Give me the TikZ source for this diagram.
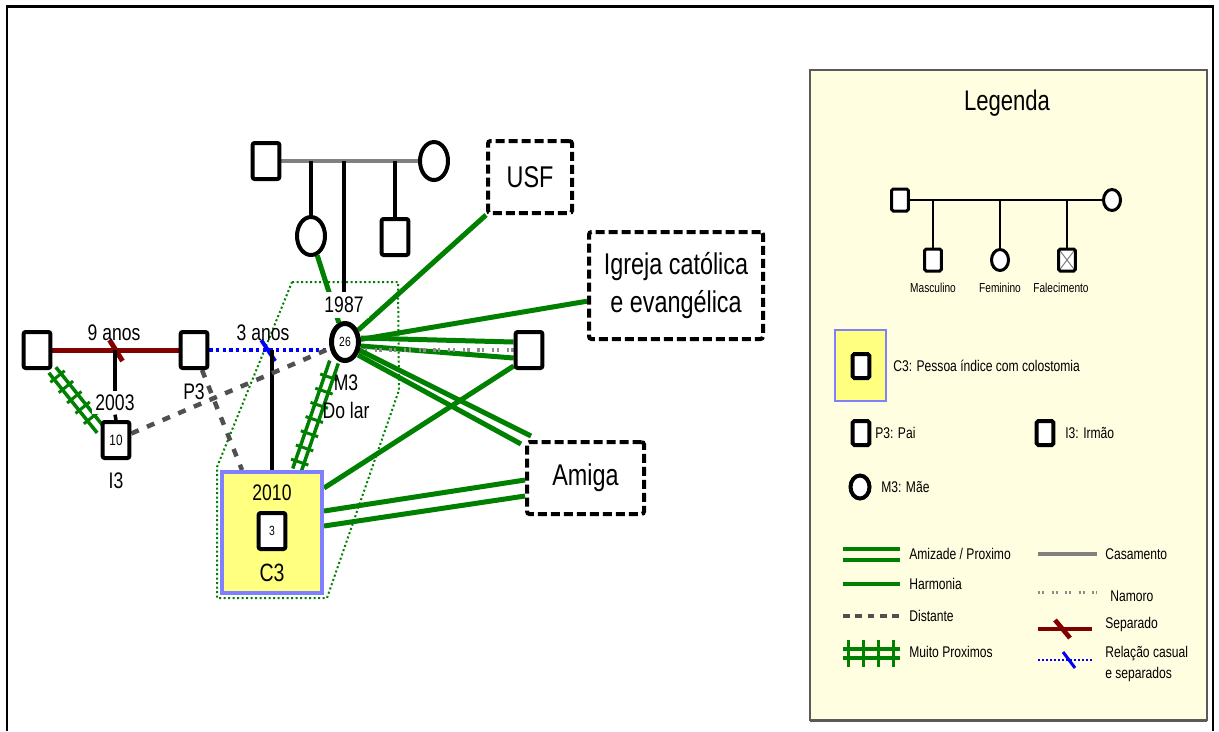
\documentclass[tikz,border=0pt]{standalone}
\usepackage{fontspec}
\setmainfont{Liberation Sans}[FakeStretch=0.78]
\usetikzlibrary{shapes.geometric,calc,decorations.markings}

\definecolor{grn}{RGB}{0,128,0}
\definecolor{dred}{RGB}{128,0,0}
\definecolor{blu}{RGB}{0,0,255}
\definecolor{mgray}{RGB}{128,128,128}
\definecolor{dgray}{RGB}{80,80,80}
\definecolor{namgray}{RGB}{140,140,140}
\definecolor{yel}{RGB}{255,255,128}
\definecolor{lav}{RGB}{128,128,255}
\definecolor{legfill}{RGB}{255,254,224}
\definecolor{legline}{RGB}{90,90,90}

\newcommand\fsz[2]{\fontsize{#1pt}{#2pt}\selectfont}

\pgfdeclarelayer{bglayer}
\pgfdeclarelayer{edgelayer}
\pgfsetlayers{bglayer,edgelayer,main}

\tikzset{
  psq/.style={rectangle, draw, fill=white, line width=2.4pt, minimum width=16pt,
    minimum height=21.6pt, inner sep=0pt, rounded corners=1.2pt},
  pci/.style={ellipse, draw, fill=white, line width=2.4pt, minimum width=16.8pt,
    minimum height=22.8pt, inner sep=0pt},
  ext/.style={rectangle, draw, fill=white, line width=2.4pt,
    dash pattern=on 5.4pt off 2.4pt, rounded corners=1.5pt, align=center,
    font=\fsz{18}{23}},
  lbl/.style={font=\fsz{13.5}{16.8}, inner sep=1pt},
  kin/.style={draw=black, line width=2.1pt},
  harm/.style={draw=grn, line width=3pt},
  sepl/.style={draw=dred, line width=3pt},
  casual/.style={draw=blu, line width=2.2pt, dash pattern=on 2pt off 2pt},
  casslash/.style={draw=blu, line width=2.4pt},
  dist/.style={draw=dgray, line width=2.7pt, dash pattern=on 4.8pt off 5.4pt},
  namoro/.style={draw=namgray, line width=2.2pt,
    dash pattern=on 1.5pt off 1.3pt on 1.5pt off 4.5pt},
  mp/.style={draw=grn, line width=2.1pt},
  grndot/.style={draw=grn, line width=1.2pt, dash pattern=on 1.2pt off 1.5pt},
  % legend styles
  lsqs/.style={rectangle, draw, fill=white, line width=1.8pt, minimum width=10pt,
    minimum height=13.2pt, inner sep=0pt, rounded corners=1pt},
  lcis/.style={ellipse, draw, fill=white, line width=1.8pt, minimum width=10.2pt,
    minimum height=12.6pt, inner sep=0pt},
  lsqb/.style={rectangle, draw, fill=white, line width=2.4pt, minimum width=10pt,
    minimum height=14.4pt, inner sep=0pt, rounded corners=1pt},
  lcib/.style={ellipse, draw, fill=white, line width=2.4pt, minimum width=11.4pt,
    minimum height=13.8pt, inner sep=0pt},
  lkin/.style={draw=black, line width=1.6pt},
  ltext/.style={font=\fsz{9.3}{12.6}, inner sep=0pt, anchor=west, align=left},
  ltiny/.style={font=\fsz{7.8}{9}, inner sep=0pt},
}

% two parallel green lines crossed by short bars
\newcommand\muitoprox[3]{%
  \draw[mp] ($(#1)!2.7pt!90:(#2)$) -- ($(#2)!2.7pt!-90:(#1)$);
  \draw[mp] ($(#1)!2.7pt!-90:(#2)$) -- ($(#2)!2.7pt!90:(#1)$);
  \path[decorate, decoration={markings,
      mark=between positions 5pt and -4pt step #3 with
      {\draw[draw=grn, line width=1.8pt] (0,-5.5pt) -- (0,5.5pt);}}] (#1) -- (#2);
}

\begin{document}
\begin{tikzpicture}[x=0.6pt, y=-0.6pt]
\useasboundingbox (0,0) rectangle (1219,731);

\begin{pgfonlayer}{bglayer}
  % outer frame, open at the bottom
  \draw[line width=1.5pt] (7,731) -- (7,6.5) -- (1213,6.5) -- (1213,731);
  % legend panel
  \draw[fill=legfill, draw=legline, line width=0.9pt] (810,70) rectangle (1207,720);
  \draw[draw=legline, line width=1.6pt] (810,721) -- (1207,721);
\end{pgfonlayer}

% ---------- persons ----------
\node[psq] (gf) at (266,161) {};
\node[pci] (gm) at (434,161) {};
\node[pci] (aunt) at (311,236) {};
\node[psq] (uncle) at (395,237) {};
\node[pci, line width=3pt, minimum width=16.2pt, minimum height=22.2pt] (m3) at (345,342) {\fsz{8}{9}26};
\node[psq] (lsq) at (37,350) {};
\node[psq] (p3) at (194,350) {};
\node[psq] (i3) at (116,440) {\fsz{9}{10}10};
\node[psq] (rsq) at (529,350) {};

\node[rectangle, draw=lav, fill=yel, line width=2.4pt, minimum width=60pt,
  minimum height=72.6pt, inner sep=0pt] (c3box) at (272,532.5) {};
\node[psq] (c3) at (272,531) {\fsz{8}{9}3};
\node[lbl] (c3year) at (272,493) {2010};
\node[lbl, font=\fsz{15}{17}] (c3name) at (272,573) {C3};

% ---------- external resources ----------
\node[ext, minimum width=50.4pt, minimum height=43.2pt] (usf) at (530,177) {USF};
\node[ext, minimum width=104.4pt, minimum height=64.2pt] (igreja) at (676,285.5) {Igreja católica\\e evangélica};
\node[ext, minimum width=70.2pt, minimum height=43.2pt] (amiga) at (585.5,478) {Amiga};

% ---------- labels ----------
\node[lbl, fill=white, inner sep=3pt] (y1987) at (344,305) {1987};
\node[lbl, fill=white, inner sep=2pt] (y2003) at (115,403) {2003};
\node[lbl] (t9) at (114,333) {9 anos};
\node[lbl] (t3) at (263,333) {3 anos};
\node[lbl] (lp3) at (194,392) {P3};
\node[lbl] (li3) at (116,481) {I3};
\node[lbl, align=center] (lm3) at (346,397) {M3\\Do lar};

% ---------- connectors ----------
\begin{pgfonlayer}{edgelayer}
  % group around the index person and mother
  \draw[grndot] (292,282) -- (398,282) -- (399,390) -- (327,598) -- (217,598) -- (217,467) -- cycle;

  % grandparents and their children
  \draw[draw=mgray, line width=2.4pt] (gf) -- (gm);
  \draw[kin] (aunt.north) -- (aunt.north |- gf.center);
  \draw[kin] (uncle.north) -- (uncle.north |- gf.center);
  \draw[kin] (y1987.north) -- (y1987.north |- gf.center);
  \draw[harm] (aunt) -- (m3);

  % father's earlier union, separated
  \draw[sepl] (lsq) -- (p3);
  \coordinate (s1) at ($(lsq.east)!0.5!(p3.west)$);
  \draw[sepl] ($(s1)+(-6,-10)$) -- ($(s1)+(7,11)$);
  \draw[kin] (y2003.north) -- (y2003.north |- s1);
  \draw[kin] (i3.north) -- (y2003.south);

  % casual relation of the parents
  \draw[casual] (p3.east) -- (p3.east -| m3.west);
  \coordinate (s2) at ($(p3.east)!0.5!(p3.east -| m3.west)$);
  \draw[casslash] ($(s2)+(-8,-10)$) -- ($(s2)+(6,11)$);
  \draw[kin] (c3box.north) -- (c3box.north |- s2);

  % distant relations
  \draw[dist] (i3) -- (m3);
  \draw[dist] ($(p3.south)+(8,0)$) -- ($(c3box.north west)+(22,0)$);

  % very close relations
  \coordinate (mpa1) at (lsq.south east);
  \coordinate (mpa2) at ($(i3.west)+(0,-10)$);
  \muitoprox{mpa1}{mpa2}{8pt}
  \coordinate (mpb1) at ($(c3box.north)+(25,0)$);
  \coordinate (mpb2) at ($(m3.south)+(-11,-1)$);
  \muitoprox{mpb1}{mpb2}{9pt}

  % mother's links
  \draw[harm] (m3) -- (usf.south west);
  \draw[harm] (m3) -- (igreja.190);
  \draw[harm] ($(m3.east)+(0,-4)$) -- ($(rsq.west)+(0,-8)$);
  \draw[harm] ($(m3.east)+(0,4)$) -- ($(rsq.west)+(0,8)$);
  \draw[namoro] (rsq.west) -- (rsq.west -| m3.east);
  \draw[harm] ($(m3.east)+(-2,8)$) -- ($(amiga.north west)+(6,-4)$);
  \draw[harm] ($(m3.east)+(-3,13)$) -- ($(amiga.north west)+(-4,4)$);

  % index person's links
  \draw[harm] ($(c3box.north east)+(0,18)$) -- ($(rsq.south west)+(0,-4)$);
  \draw[harm] ($(c3box.north east)+(0,41)$) -- ($(amiga.west)+(0,2)$);
  \draw[harm] ($(c3box.north east)+(0,56)$) -- ($(amiga.west)+(0,18)$);
\end{pgfonlayer}

% ---------- legend ----------
\node[font=\fsz{17}{19}] (legtitle) at (1007,103) {Legenda};

\node[lsqs] (lgf) at (900,200) {};
\node[lcis] (lgm) at (1112,200) {};
\node[lsqs] (lmas) at (933,260) {};
\node[lcis] (lfem) at (1000,260) {};
\node[lsqs, path picture={\draw[gray, line width=0.6pt]
    (path picture bounding box.north west) -- (path picture bounding box.south east)
    (path picture bounding box.south west) -- (path picture bounding box.north east);}]
  (lfal) at (1067,260) {};
\begin{pgfonlayer}{edgelayer}
  \draw[lkin] (lgf) -- (lgm);
  \draw[lkin] (lmas.north) -- (lmas.north |- lgf.center);
  \draw[lkin] (lfem.north) -- (lfem.north |- lgf.center);
  \draw[lkin] (lfal.north) -- (lfal.north |- lgf.center);
\end{pgfonlayer}
\node[ltiny] (tmas) at (933,288) {Masculino};
\node[ltiny] (tfem) at (1000,288) {Feminino};
\node[ltiny] (tfal) at (1061,288) {Falecimento};

\node[rectangle, draw=lav, fill=yel, line width=1.5pt, minimum width=30.6pt,
  minimum height=42.6pt, inner sep=0pt] (lc3box) at (860.5,365.5) {};
\node[lsqb] (lc3) at (861,366) {};
\node[ltext] (tc3) at (893,366) {C3: Pessoa índice com colostomia};
\node[lsqb] (lp3) at (861,433) {};
\node[ltext] (tp3) at (875,433) {P3: Pai};
\node[lsqb] (li3) at (1045,433) {};
\node[ltext] (ti3) at (1065,433) {I3: Irmão};
\node[lcib] (lm3) at (860,487) {};
\node[ltext] (tm3) at (881,487) {M3: Mãe};

% line samples
\draw[draw=grn, line width=2.1pt] (843,549) -- (900,549);
\draw[draw=grn, line width=2.1pt] (843,560) -- (900,560);
\node[ltext] (tami) at (909,554) {Amizade / Proximo};
\draw[draw=grn, line width=2.1pt] (843,584) -- (900,584);
\node[ltext] (tharm) at (909,584) {Harmonia};
\draw[draw=dgray, line width=2pt, dash pattern=on 4pt off 3.4pt] (843,616) -- (900,616);
\node[ltext] (tdist) at (909,616) {Distante};
\draw[draw=grn, line width=2.1pt] (843,649) -- (900,649);
\draw[draw=grn, line width=2.1pt] (843,658) -- (900,658);
\foreach \tx in {848,863,878,893}
  \draw[draw=grn, line width=1.8pt] (\tx,640) -- (\tx,667);
\node[ltext] (tmuito) at (909,652) {Muito Proximos};

\draw[draw=mgray, line width=2.4pt] (1038,554) -- (1097,554);
\node[ltext] (tcas) at (1105,554) {Casamento};
\draw[draw=namgray, line width=1.8pt, dash pattern=on 1.2pt off 1.2pt on 1.2pt off 4.5pt] (1038,592) -- (1097,592);
\node[ltext] (tnam) at (1110,596) {Namoro};
\draw[draw=dred, line width=2.8pt] (1038,629) -- (1092,629);
\draw[draw=dred, line width=2.8pt] (1055,620) -- (1070,638);
\node[ltext] (tsep) at (1105,624) {Separado};
\draw[draw=blu, line width=1.5pt, dash pattern=on 1.2pt off 1.2pt] (1038,660) -- (1092,660);
\draw[draw=blu, line width=1.8pt] (1063,652) -- (1075,668);
\node[ltext] (trel) at (1105,663.5) {Relação casual\\e separados};
\end{tikzpicture}
\end{document}
